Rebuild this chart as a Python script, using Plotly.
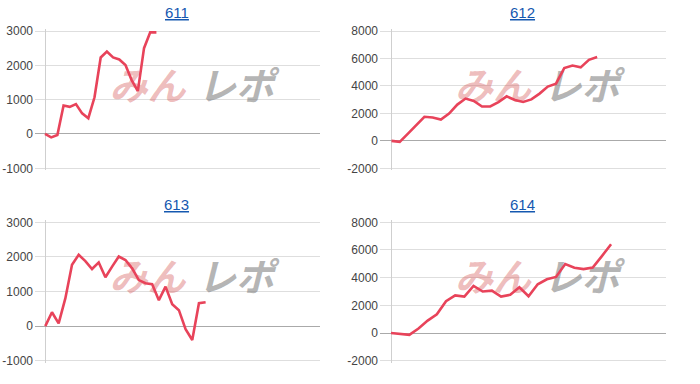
import plotly.graph_objects as go

# ---- data ----
titles = ["611", "612", "613", "614"]

values_611 = [0, -100, -30, 830, 790, 870, 600, 460, 1070, 2230, 2400, 2230,
              2170, 2010, 1570, 1250, 2500, 2960, 2960]
values_612 = [0, -70, 530, 1140, 1750, 1700, 1550, 1990, 2640, 3080, 2910, 2500,
              2500, 2820, 3240, 2970, 2830, 3020, 3440, 3950, 4160, 5300, 5480,
              5350, 5900, 6100]
values_613 = [0, 400, 80, 800, 1770, 2060, 1880, 1650, 1840, 1410, 1720, 2010,
              1910, 1670, 1330, 1240, 1210, 750, 1140, 630, 460, -90, -400, 660, 690]
values_614 = [0, -60, -130, 330, 900, 1350, 2300, 2720, 2630, 3410, 3000, 3060,
              2630, 2760, 3300, 2660, 3520, 3880, 4050, 4980, 4720, 4620, 4730,
              5560, 6420]

ticks_small = [3000, 2000, 1000, 0, -1000]
ticklabels_small = ["3000", "2000", "1000", "0", "-1000"]
ticks_big = [8000, 6000, 4000, 2000, 0, -2000]
ticklabels_big = ["8000", "6000", "4000", "2000", "0", "-2000"]

watermark_parts = ["みん", "レポ"]

# ---- layout / style ----
W, H = 700, 384
LINE_COLOR = "#e8435a"
TICK_FONT = dict(family="Liberation Sans, Arial, sans-serif", size=12, color="#444444")
PAD = 2  # px of extra room above/below the outer gridlines so they get drawn

panels = [
    dict(v=values_611, tv=ticks_small, tt=ticklabels_small, xr=[-1.615, 44.43],
         xd=(35, 320), yd=(31, 168.3), tc=(177, 12.7)),
    dict(v=values_612, tv=ticks_big, tt=ticklabels_big, xr=[-1.40, 33.37],
         xd=(380, 666), yd=(31, 168.3), tc=(522.3, 12.7)),
    dict(v=values_613, tv=ticks_small, tt=ticklabels_small, xr=[-1.54, 41.12],
         xd=(35, 320), yd=(222.3, 360.7), tc=(177, 204.3)),
    dict(v=values_614, tv=ticks_big, tt=ticklabels_big, xr=[-1.20, 29.99],
         xd=(380, 666), yd=(222.3, 360.7), tc=(522.3, 204.3)),
]

fig = go.Figure()
annotations = []
layout_axes = {}

for i, (p, title) in enumerate(zip(panels, titles), start=1):
    xa = "x" if i == 1 else f"x{i}"
    ya = "y" if i == 1 else f"y{i}"
    xkey = "xaxis" if i == 1 else f"xaxis{i}"
    ykey = "yaxis" if i == 1 else f"yaxis{i}"
    ylo, yhi = min(p["tv"]), max(p["tv"])
    top_px, bot_px = p["yd"]
    per_px = (yhi - ylo) / (bot_px - top_px)
    yr = [ylo - PAD * per_px, yhi + PAD * per_px]

    # watermark (drawn first so the line sits above it)
    wx = [p["xr"][0] + f * (p["xr"][1] - p["xr"][0]) for f in (0.395, 0.705)]
    wy = [ylo + 0.57 * (yhi - ylo)] * 2
    fig.add_trace(go.Scatter(
        x=wx, y=wy, mode="text", text=watermark_parts,
        textfont=dict(family="Noto Sans CJK JP", size=38, weight="bold", style="italic",
                      color=["rgba(215,95,95,0.42)", "rgba(125,125,125,0.58)"]),
        xaxis=xa, yaxis=ya, hoverinfo="skip", showlegend=False))

    fig.add_trace(go.Scatter(
        x=list(range(len(p["v"]))), y=p["v"], mode="lines",
        line=dict(color=LINE_COLOR, width=2.6), xaxis=xa, yaxis=ya,
        showlegend=False))

    layout_axes[xkey] = dict(
        domain=[p["xd"][0] / W, p["xd"][1] / W], range=p["xr"], anchor=ya,
        showgrid=False, showticklabels=False, ticks="", automargin=False,
        zeroline=True, zerolinecolor="#cfcfcf", zerolinewidth=1, showline=False)
    layout_axes[ykey] = dict(
        domain=[1 - (bot_px + PAD) / H, 1 - (top_px - PAD) / H], range=yr, anchor=xa,
        tickmode="array", tickvals=p["tv"], ticktext=p["tt"], ticks="",
        tickfont=TICK_FONT, showgrid=True, gridcolor="#dedede", gridwidth=1,
        zeroline=True, zerolinecolor="#aaaaaa", zerolinewidth=1, showline=False,
        ticklabelstandoff=1, automargin=False)

    annotations.append(dict(
        text=title, xref="paper", yref="paper",
        x=p["tc"][0] / W, y=1 - p["tc"][1] / H, xanchor="center", yanchor="middle",
        showarrow=False,
        font=dict(family="Liberation Sans, Arial, sans-serif", size=15,
                  color="#1558b0", lineposition="under")))

fig.update_layout(
    template="none",
    width=W, height=H, margin=dict(l=0, r=0, t=0, b=0, pad=0),
    paper_bgcolor="white", plot_bgcolor="white",
    annotations=annotations, showlegend=False, **layout_axes)

fig.write_html("out.html")
